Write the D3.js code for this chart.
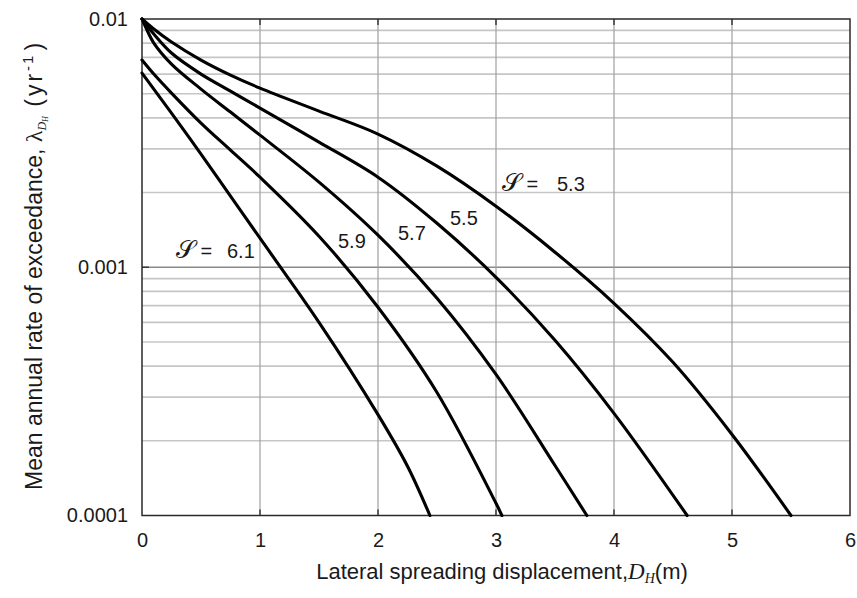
<!DOCTYPE html>
<html><head><meta charset="utf-8">
<script src="https://cdn.jsdelivr.net/npm/d3@7/dist/d3.min.js"></script>
<style>body{margin:0;background:#fff} svg{display:block}</style>
</head><body>
<svg id="c" width="857" height="598"></svg>
<script>
// ---- data ----
const xTickValues = [0, 1, 2, 3, 4, 5, 6];
const yTickValues = [1e-4, 1e-3, 1e-2];
const yTickLabels = ["0.0001", "0.001", "0.01"];
const seriesNames = ["5.3", "5.5", "5.7", "5.9", "6.1"];

const x53 = [0, 0.1, 0.25, 0.5, 0.75, 1, 1.5, 2, 2.5, 3, 3.5, 4, 4.5, 5, 5.5];
const v53 = [0.01, 0.009113, 0.008078, 0.006834, 0.005944, 0.005268, 0.004257, 0.003439, 0.002554, 0.001762, 0.00115, 0.000716, 0.000414, 0.000212, 0.0001];

const x55 = [0, 0.1, 0.25, 0.5, 0.75, 1, 1.5, 2, 2.5, 3, 3.5, 4, 4.62];
const v55 = [0.01, 0.0087, 0.007293, 0.006, 0.005124, 0.004377, 0.003192, 0.002306, 0.001504, 0.000911, 0.000508, 0.000258, 0.0001];

const x57 = [0, 0.05, 0.1, 0.25, 0.5, 0.75, 1, 1.5, 2, 2.5, 3, 3.5, 3.77];
const v57 = [0.01, 0.008864, 0.008003, 0.006585, 0.00522, 0.004217, 0.003406, 0.002202, 0.001346, 0.00075, 0.00037, 0.000159, 0.0001];

const x59 = [0, 0.1, 0.25, 0.5, 0.75, 1, 1.5, 2, 2.5, 3, 3.05];
const v59 = [0.006834, 0.006, 0.00503, 0.003807, 0.002962, 0.002306, 0.001334, 0.00069, 0.000313, 0.000112, 0.0001];

const x61 = [0, 0.1, 0.25, 0.5, 0.75, 1, 1.5, 2, 2.25, 2.44];
const v61 = [0.006056, 0.00522, 0.004178, 0.002855, 0.001933, 0.001309, 0.0006, 0.000255, 0.000158, 0.0001];

const seriesX = [x53, x55, x57, x59, x61];
const seriesV = [v53, v55, v57, v59, v61];

// ---- drawing ----
const svg = d3.select("#c");
const X0 = 142, X1 = 850, Y0 = 515.5, Y1 = 19;
const x = d3.scaleLinear().domain([0, 6]).range([X0, X1]);
const y = d3.scaleLog().domain([1e-4, 1e-2]).range([Y0, Y1]);

const g = svg.append("g");

// horizontal minor gridlines
const minor = y.ticks().filter(v => !yTickValues.some(m => Math.abs(m - v) / m < 1e-6));
g.selectAll("line.hmin").data(minor).enter().append("line")
  .attr("x1", X0).attr("x2", X1)
  .attr("y1", d => y(d)).attr("y2", d => y(d))
  .attr("stroke", "#c6c6c6").attr("stroke-width", 1.7);

// major horizontal (inner)
g.selectAll("line.hmaj").data(yTickValues.slice(1, -1)).enter().append("line")
  .attr("x1", X0).attr("x2", X1)
  .attr("y1", d => y(d)).attr("y2", d => y(d))
  .attr("stroke", "#8a8a8a").attr("stroke-width", 1.4);

// vertical gridlines
g.selectAll("line.v").data(xTickValues.slice(1, -1)).enter().append("line")
  .attr("x1", d => x(d)).attr("x2", d => x(d))
  .attr("y1", Y1).attr("y2", Y0)
  .attr("stroke", "#a0a0a0").attr("stroke-width", 1.2);

// inward ticks
g.selectAll("line.tb").data(xTickValues.slice(1, -1)).enter().append("line")
  .attr("x1", d => x(d)).attr("x2", d => x(d))
  .attr("y1", Y0).attr("y2", Y0 - 6)
  .attr("stroke", "#333").attr("stroke-width", 1.4);
g.selectAll("line.tt").data(xTickValues.slice(1, -1)).enter().append("line")
  .attr("x1", d => x(d)).attr("x2", d => x(d))
  .attr("y1", Y1).attr("y2", Y1 + 6)
  .attr("stroke", "#333").attr("stroke-width", 1.4);
g.selectAll("line.tl").data(yTickValues.slice(1, -1)).enter().append("line")
  .attr("x1", X0).attr("x2", X0 + 7)
  .attr("y1", d => y(d)).attr("y2", d => y(d))
  .attr("stroke", "#333").attr("stroke-width", 1.4);

// frame
g.append("rect").attr("x", X0).attr("y", Y1).attr("width", X1 - X0).attr("height", Y0 - Y1)
  .attr("fill", "none").attr("stroke", "#2a2a2a").attr("stroke-width", 1.5);

// axes (labels only)
const xAxis = d3.axisBottom(x).tickValues(xTickValues).tickSize(0).tickPadding(17).tickFormat(d3.format("d"));
const ax = svg.append("g").attr("transform", `translate(0,${Y0})`).call(xAxis);
const yAxis = d3.axisLeft(y).tickValues(yTickValues).tickSize(0).tickPadding(14)
  .tickFormat((d, i) => yTickLabels[i]);
const ay = svg.append("g").attr("transform", `translate(${X0},0)`).call(yAxis);
[ax, ay].forEach(a => {
  a.select(".domain").remove();
  a.selectAll("text").attr("font-family", "'Liberation Sans', Arial, sans-serif")
    .attr("font-size", 20).attr("fill", "#1a1a1a");
});

// curves
const line = d3.line().x(d => x(d[0])).y(d => y(d[1])).curve(d3.curveCatmullRom.alpha(0.5));
seriesX.forEach((xs, i) => {
  const pts = xs.map((xv, j) => [xv, seriesV[i][j]]);
  g.append("path").datum(pts).attr("d", line)
    .attr("fill", "none").attr("stroke", "#000").attr("stroke-width", 3.1)
    .attr("stroke-linejoin", "round").attr("stroke-linecap", "round");
});

// curve labels
const font = "'Liberation Sans', Arial, sans-serif";
function scriptLabel(px, py, val, valX) {
  const t = svg.append("text").attr("x", px).attr("y", py)
    .attr("font-family", font).attr("font-size", 20).attr("fill", "#1a1a1a");
  t.append("tspan").attr("font-family", "'DejaVu Serif', 'Liberation Serif', serif")
    .attr("font-size", 25).attr("font-weight", "300").text("𝒮");
  t.append("tspan").text(" =");
  svg.append("text").attr("x", valX).attr("y", py)
    .attr("font-family", font).attr("font-size", 20).attr("fill", "#1a1a1a").text(val);
}
scriptLabel(502, 191, seriesNames[0], 557);
scriptLabel(176, 258, seriesNames[4], 227);
[[seriesNames[1], 450, 225], [seriesNames[2], 398, 240], [seriesNames[3], 338, 248]].forEach(([s, px, py]) => {
  svg.append("text").attr("x", px).attr("y", py)
    .attr("font-family", font).attr("font-size", 20).attr("fill", "#1a1a1a").text(s);
});

// axis titles
const serif = "'Liberation Serif', 'Times New Roman', serif";
const xt = svg.append("text").attr("x", 502).attr("y", 579).attr("text-anchor", "middle")
  .attr("font-family", font).attr("font-size", 22).attr("fill", "#1a1a1a");
xt.append("tspan").text("Lateral spreading displacement,");
xt.append("tspan").attr("font-family", serif)
  .attr("font-style", "italic").attr("font-size", 23).text("D");
xt.append("tspan").attr("font-family", serif)
  .attr("font-style", "italic").attr("font-size", 14).attr("dy", 4).text("H");
xt.append("tspan").attr("dy", -4).text("(m)");

const yt = svg.append("text").attr("transform", "translate(42,490) rotate(-90)")
  .attr("text-anchor", "start")
  .attr("font-family", font).attr("font-size", 23).attr("fill", "#1a1a1a");
yt.append("tspan").text("Mean annual rate of exceedance, ");
yt.append("tspan").attr("font-family", serif).attr("font-size", 24).text("λ");
yt.append("tspan").attr("font-family", serif)
  .attr("font-style", "italic").attr("font-size", 12).attr("dy", 4).text("D");
yt.append("tspan").attr("font-family", serif)
  .attr("font-style", "italic").attr("font-size", 8).attr("dy", 2).text("H");
yt.append("tspan").attr("dy", -6).attr("letter-spacing", 3).text(" (yr");
yt.append("tspan").attr("font-size", 15).attr("dy", -9).attr("letter-spacing", 2).text("-1");
yt.append("tspan").attr("dy", 9).attr("dx", 3).text(")");
</script>
</body></html>
